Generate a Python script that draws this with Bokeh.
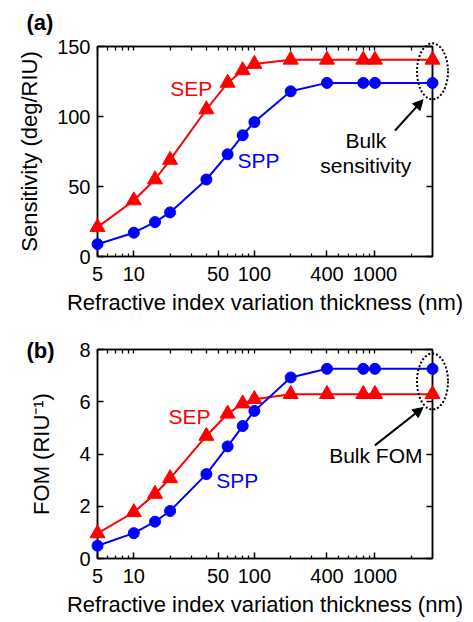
from bokeh.plotting import figure
from bokeh.models import (Range1d, LogAxis, LinearAxis, FixedTicker, Label, Arrow,
                          NormalHead, PrintfTickFormatter)
from bokeh.core.properties import value
from bokeh.layouts import column
from bokeh.embed import file_html
from bokeh.resources import INLINE

# ---- data ----
thickness = [5, 10, 15, 20, 40, 60, 80, 100, 200, 400, 800, 1000, 3000]  # last = bulk
sens_sep = [21, 40, 55, 69, 105, 124, 133, 137.5, 140.5, 140.5, 140.5, 140.5, 140.5]
sens_spp = [8.8, 17, 24.6, 31.5, 55, 73, 86.6, 96, 118, 124, 124, 124, 124]
fom_sep = [0.96, 1.77, 2.47, 3.07, 4.69, 5.54, 5.93, 6.1, 6.29, 6.29, 6.29, 6.29, 6.29]
fom_spp = [0.49, 0.97, 1.41, 1.82, 3.23, 4.29, 5.07, 5.65, 6.93, 7.26, 7.26, 7.26, 7.26]

x_ticks = [5, 10, 50, 100, 400, 1000]
x_minor = [6, 7, 8, 9, 20, 30, 40, 60, 70, 80, 90, 200, 300, 500, 600, 700, 800, 900, 2000]
sens_ticks = [0, 50, 100, 150]
fom_ticks = [0, 2, 4, 6, 8]

FONT = "Liberation Sans"
XLABEL = "Refractive index variation thickness (nm)"


def style_axis(ax):
    ax.major_tick_in = 6
    ax.major_tick_out = 0
    ax.minor_tick_in = 3
    ax.minor_tick_out = 0
    ax.axis_line_width = 1.5
    ax.major_tick_line_width = 1.5
    ax.minor_tick_line_width = 1.2
    ax.major_label_text_font = FONT
    ax.major_label_text_color = "black"
    ax.major_label_text_font_size = "20px"
    ax.axis_label_text_font = FONT
    ax.axis_label_text_font_style = "normal"
    ax.axis_label_text_font_size = "22px"
    ax.axis_label_text_color = "black"


def mirror_axis(ax):
    # tick marks only (no labels): every tick drawn as a "minor" tick
    ax.major_tick_in = 0
    ax.major_tick_out = 0
    ax.minor_tick_out = 0
    ax.axis_line_width = 1.5
    ax.minor_tick_line_width = 1.3
    ax.major_label_standoff = 0


def panel(y_sep, y_spp, yrange, yticks, ylabel, tag, size, borders, ylab_standoff,
          sep_pos, spp_pos, bulk_texts, arrow):
    top, bottom = borders
    p = figure(width=473, height=size, x_axis_type="log",
               x_range=Range1d(thickness[0], thickness[-1]),
               y_range=Range1d(*yrange),
               min_border_left=97, min_border_right=41,
               min_border_top=top, min_border_bottom=bottom,
               toolbar_location=None, output_backend="svg")
    p.grid.visible = False
    p.outline_line_color = "black"
    p.outline_line_width = 1.5
    p.background_fill_color = "white"
    p.border_fill_color = "white"

    xa = p.xaxis[0]
    xa.ticker = FixedTicker(ticks=x_ticks, minor_ticks=x_minor)
    xa.formatter = PrintfTickFormatter(format="%d")
    xa.axis_label = XLABEL
    style_axis(xa)
    xa.major_label_standoff = 10
    xa.axis_label_standoff = 6

    ya = p.yaxis[0]
    ya.ticker = FixedTicker(ticks=yticks, minor_ticks=[])
    ya.axis_label = ylabel
    style_axis(ya)
    ya.major_label_standoff = 7
    ya.axis_label_standoff = ylab_standoff

    top_ax = LogAxis(ticker=FixedTicker(ticks=[], minor_ticks=x_ticks + x_minor))
    mirror_axis(top_ax)
    top_ax.minor_tick_in = 4
    p.add_layout(top_ax, "above")
    right_ax = LinearAxis(ticker=FixedTicker(ticks=[], minor_ticks=yticks))
    mirror_axis(right_ax)
    right_ax.minor_tick_in = 6
    p.add_layout(right_ax, "right")

    p.line(thickness, y_sep, line_color="red", line_width=2)
    p.line(thickness, y_spp, line_color="blue", line_width=2)
    p.scatter(thickness, y_sep, marker="triangle", size=15, fill_color="red",
              line_color="red", level="overlay")
    p.scatter(thickness, y_spp, marker="circle", size=11, fill_color="blue",
              line_color="blue", level="overlay")

    # dotted ellipse around the bulk points
    p.ellipse(x=[thickness[-1]], y=[(y_sep[-1] + y_spp[-1]) / 2], width=31, height=56,
              width_units="screen", height_units="screen", fill_color=None,
              line_color="black", line_dash="2 2", line_width=2, level="overlay")

    p.add_layout(Label(x=sep_pos[0], y=sep_pos[1], text="SEP", text_color="red",
                       text_font=FONT, text_font_size="21px", text_align="center",
                       text_baseline="middle"))
    p.add_layout(Label(x=spp_pos[0], y=spp_pos[1], text="SPP", text_color="blue",
                       text_font=FONT, text_font_size="21px", text_align="center",
                       text_baseline="middle"))
    for (bx, by, bt) in bulk_texts:
        p.add_layout(Label(x=bx, y=by, text=bt, text_color="black",
                           text_font=FONT, text_font_size="21px", text_align="center",
                           text_baseline="middle"))
    (x0, y0), (x1, y1) = arrow
    p.add_layout(Arrow(x_start=x0, y_start=y0, x_end=x1, y_end=y1, line_width=2,
                       line_color="black",
                       end=NormalHead(size=10, fill_color="black", line_color="black")))

    # panel tag, anchored at the frame's top-left corner and shifted in pixels
    p.text(x=[thickness[0]], y=[yrange[1]], text=[tag[0]], x_offset=-71, y_offset=tag[1],
           text_font=value(FONT), text_font_style="bold", text_font_size="22px",
           text_align="left", text_baseline="middle", text_color="black",
           level="overlay")
    return p


pa = panel(sens_sep, sens_spp, (0, 150), sens_ticks, "Sensitivity (deg/RIU)",
           ("(a)", -24), 320, (46, 64), 12,
           (30, 120), (108, 68.6),
           [(840, 83, "Bulk"), (840, 65, "sensitivity")],
           ((1466, 90), (2506, 112)))

pb = panel(fom_sep, fom_spp, (0, 8), fom_ticks, "FOM (RIU\u207b\u00b9)",
           ("(b)", 1), 302, (29, 64), 22,
           (29, 5.43), (72, 2.99),
           [(1016, 3.94, "Bulk FOM")],
           ((998, 4.33), (2506, 5.78)))

layout = column(pa, pb, spacing=0)
open("out.html", "w").write(file_html(layout, INLINE))
